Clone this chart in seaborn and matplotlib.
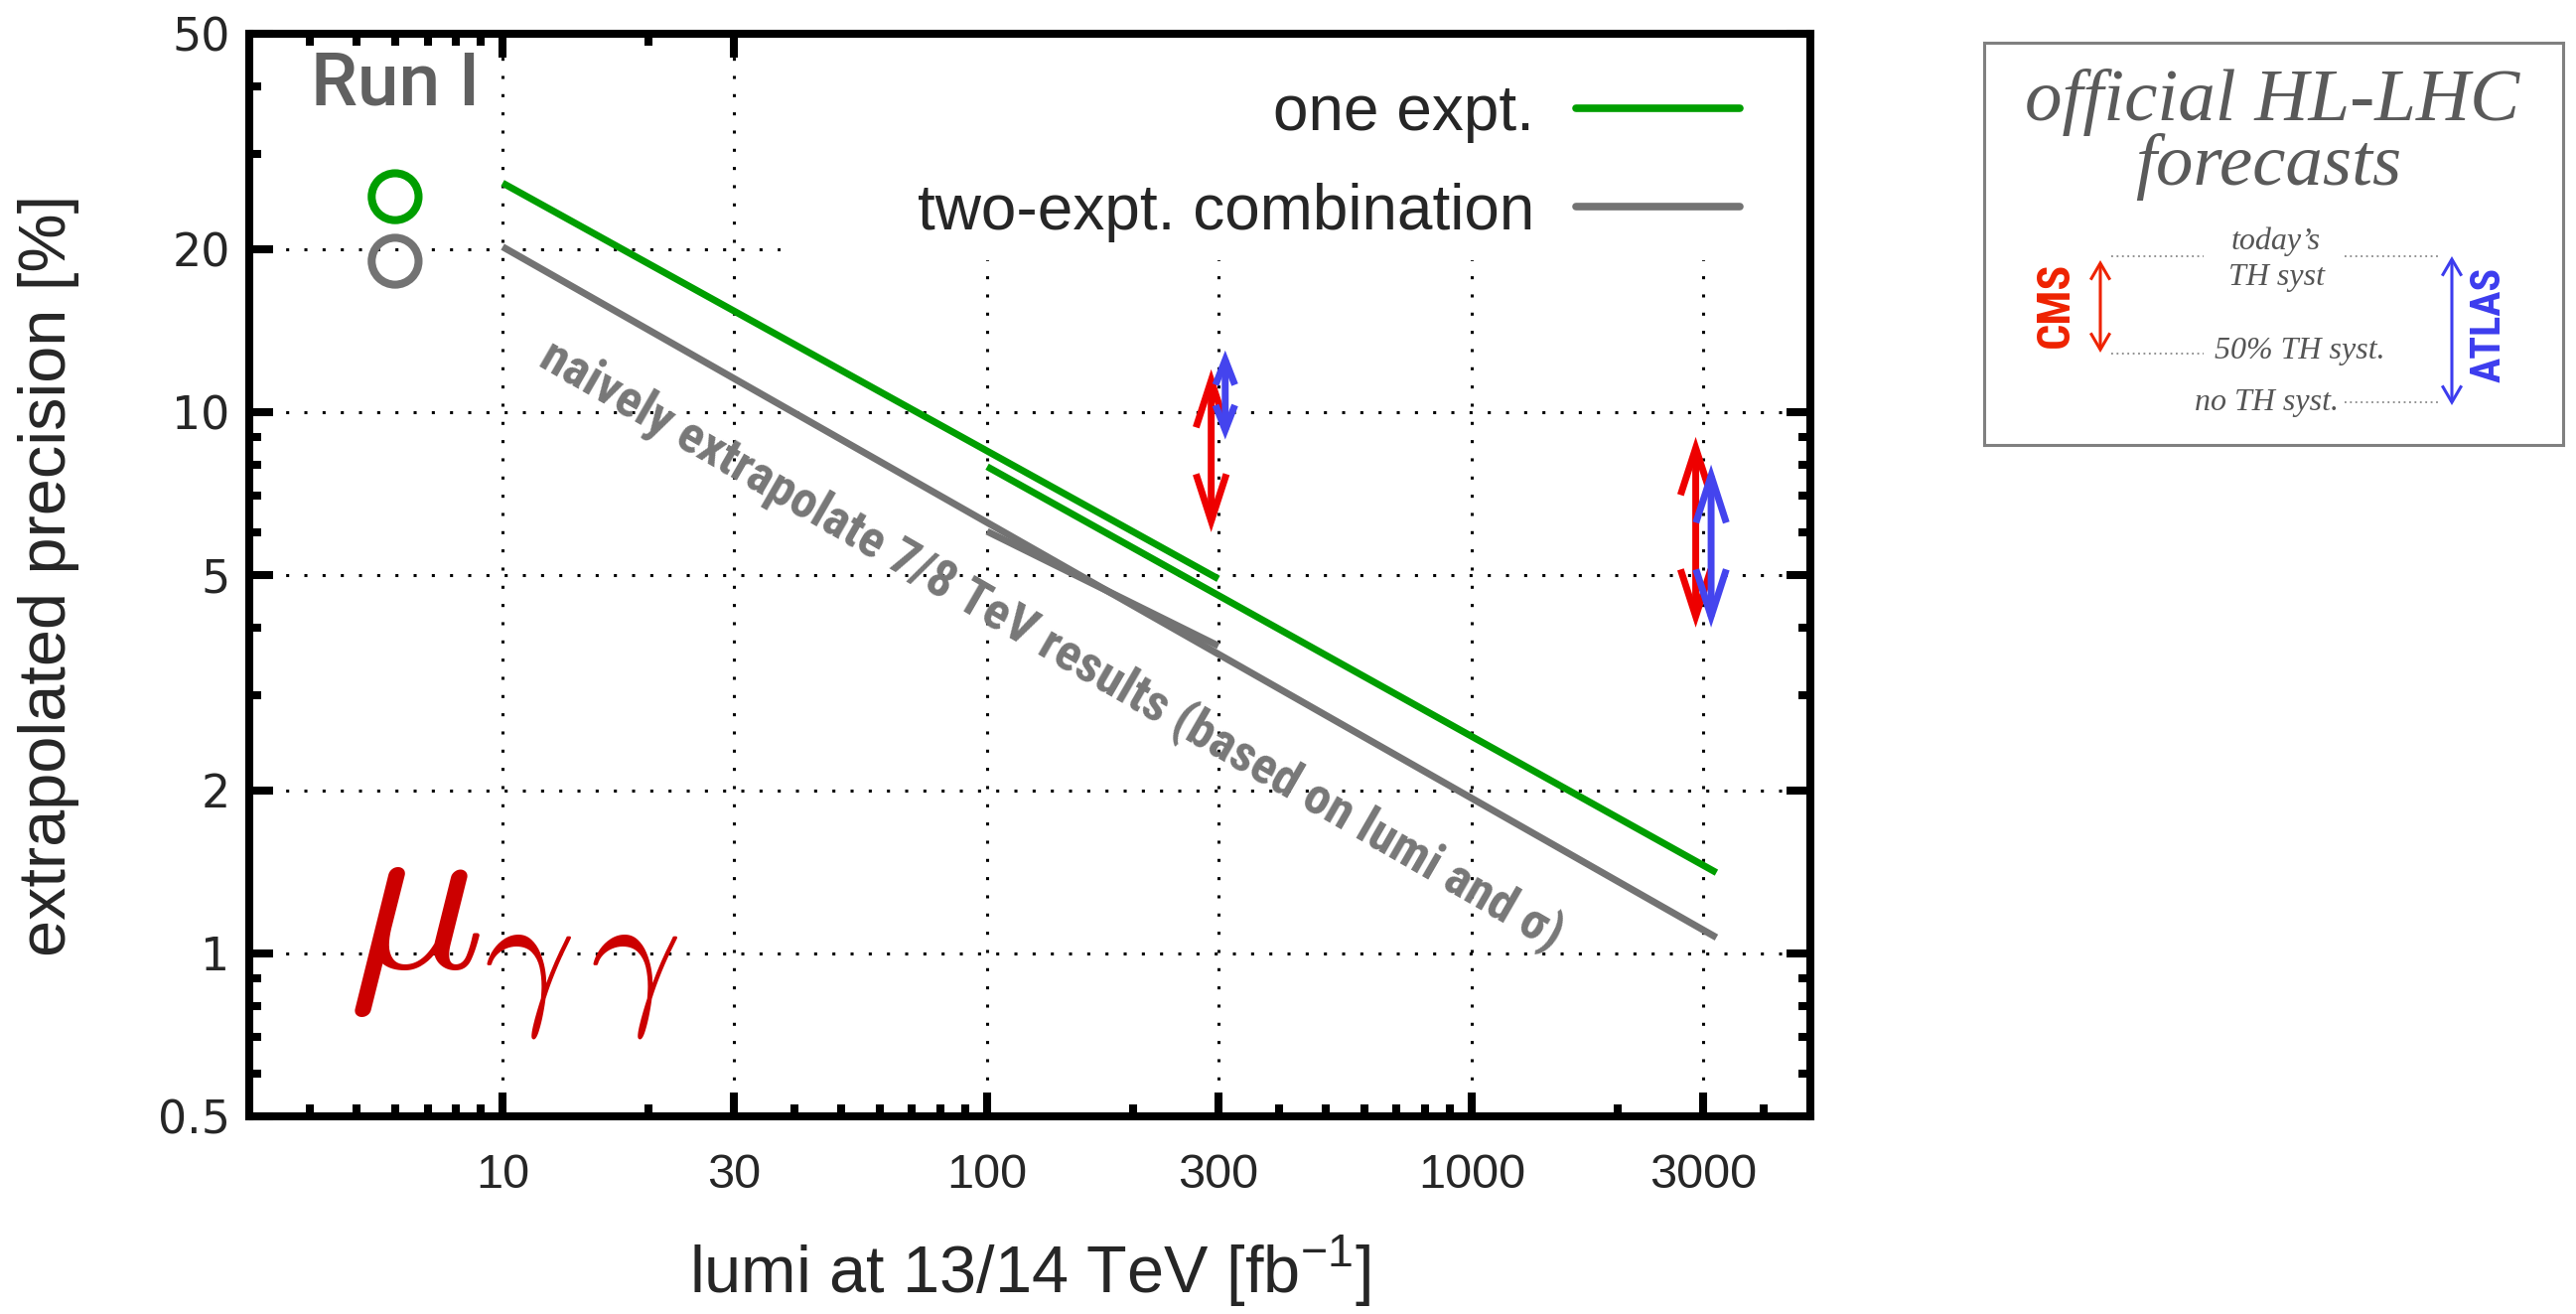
import os
import numpy as np
import pandas as pd
import matplotlib
matplotlib.use("Agg")
import matplotlib.pyplot as plt
import seaborn as sns
from matplotlib import font_manager as fm
from matplotlib.patches import Rectangle, FancyArrowPatch, ArrowStyle
from matplotlib.lines import Line2D
from matplotlib.ticker import NullFormatter

# ---------------- data ----------------
lumi_one_run2 = [10, 300]
prec_one_run2 = [26.5, 4.92]
lumi_one_hl = [100, 3200]
prec_one_hl = [7.93, 1.41]
lumi_two = [10, 3200]
prec_two = [20.2, 1.07]
lumi_two_short = [100, 300]
prec_two_short = [6.02, 3.70]

run1_lumi = [6, 6]
run1_prec = [25.0, 19.0]

cms_lumi = [290, 2900]
cms_low = [6.0, 4.0]
cms_high = [12.0, 9.0]
atlas_lumi = [310, 3120]
atlas_low = [8.9, 4.0]
atlas_high = [13.0, 8.0]

x_major = [10, 30, 100, 300, 1000, 3000]
x_labels = ["10", "30", "100", "300", "1000", "3000"]
x_minor = [4, 5, 6, 7, 8, 9, 20, 40, 50, 60, 70, 80, 90, 200, 400, 500, 600,
           700, 800, 900, 2000, 4000]
y_major = [0.5, 1, 2, 5, 10, 20, 50]
y_labels = ["0.5", "1", "2", "5", "10", "20", "50"]
y_minor = [0.6, 0.7, 0.8, 0.9, 3, 4, 6, 7, 8, 9, 30, 40]
legend_labels = ["one expt.", "two-expt. combination"]

GREEN = "#009e00"
GRAY = "#737373"
RED = "#ee0000"
BLUE = "#4444ee"

# ---------------- style ----------------
sns.set_style("ticks")
plt.rcParams["font.family"] = ["Liberation Sans", "DejaVu Sans"]
plt.rcParams["axes.edgecolor"] = "black"

files = {os.path.basename(f.fname): f.fname for f in fm.fontManager.ttflist}


def pick(cands, fallback):
    for c in cands:
        if c in files:
            return fm.FontProperties(fname=files[c])
    return fallback


cond_bold = pick(["LiberationSansNarrow-Bold.ttf", "RobotoCondensed-Bold.ttf",
                  "DejaVuSansCondensed-Bold.ttf", "Roboto-Bold.ttf"],
                 fm.FontProperties(family="DejaVu Sans", weight="bold"))
run_font = pick(["Roboto-Medium.ttf", "Roboto-Regular.ttf"],
                fm.FontProperties(family="DejaVu Sans"))
serif_it = fm.FontProperties(family=["Liberation Serif", "DejaVu Serif"], style="italic")

W, H = 2594, 1323
fig = plt.figure(figsize=(W / 100, H / 100), dpi=100)
ax = fig.add_axes([251 / W, 1 - 1124 / H, 1572 / W, 1090 / H])
ax.set_xscale("log")
ax.set_yscale("log")
ax.set_xlim(3, 5000)
ax.set_ylim(0.5, 50)

renderer = fig.canvas.get_renderer()


def fit_size(s, prop, target_px):
    p = prop.copy()
    p.set_size(100)
    w, h, d = renderer.get_text_width_height_descent(s, p, ismath=False)
    return 100 * target_px / w


# grid (dotted, gnuplot style)
for v in x_major:
    ax.axvline(v, color="k", lw=2.2, ls=(0, (1, 5)), zorder=0.4)
for v in y_major[1:-1]:
    ax.axhline(v, color="k", lw=2.2, ls=(0, (1, 5)), zorder=0.4)

# opaque legend area
ax.add_patch(Rectangle((0.3403, 0.7908), 0.6597, 0.2092, transform=ax.transAxes,
                       facecolor="white", edgecolor="none", zorder=0.6))

# lines
for xs, ys, c in [(lumi_one_run2, prec_one_run2, GREEN),
                  (lumi_one_hl, prec_one_hl, GREEN),
                  (lumi_two, prec_two, GRAY),
                  (lumi_two_short, prec_two_short, GRAY)]:
    sns.lineplot(x=xs, y=ys, ax=ax, color=c, lw=5, zorder=3,
                 solid_capstyle="butt", legend=False)

# Run I points
for xv, yv, c in zip(run1_lumi, run1_prec, [GREEN, GRAY]):
    sns.scatterplot(x=[xv], y=[yv], ax=ax, marker="o", s=34 ** 2,
                    facecolor="none", edgecolor=c, linewidth=5.8, zorder=3,
                    legend=False)
ax.text(6, 37.0, "Run I", ha="center", va="baseline", fontproperties=run_font,
        fontsize=54, color="#606060", zorder=4)


# double arrows
def darrow(a, x, y0, y1, color, lw, hl, hw, transform):
    st = ArrowStyle("<->", head_length=hl, head_width=hw)
    p = FancyArrowPatch((x, y0), (x, y1), arrowstyle=st, mutation_scale=1,
                        color=color, lw=lw, shrinkA=0, shrinkB=0,
                        transform=transform, zorder=4, joinstyle="miter",
                        capstyle="butt")
    a.add_patch(p)


for i, (xv, lo, hi) in enumerate(zip(cms_lumi, cms_low, cms_high)):
    darrow(ax, xv, lo, hi, RED, 5, 34, 11, ax.transData)
for i, (xv, lo, hi) in enumerate(zip(atlas_lumi, atlas_low, atlas_high)):
    hl, hw = (18, 7) if i == 0 else (34, 11)
    darrow(ax, xv, lo, hi, BLUE, 5, hl, hw, ax.transData)

# rotated annotation
note = "naively extrapolate 7/8 TeV results (based on lumi and σ)"
nsize = fit_size(note, cond_bold, 1180)
np_ = cond_bold.copy()
np_.set_size(nsize)
ax.text(136, 3.71, note, rotation=-30, rotation_mode="anchor", ha="center",
        va="center", fontproperties=np_, color="#777777", zorder=4)

# mu_gamma_gamma
ax.text(4.79, 0.939, r"$\mu_{\gamma\,\gamma}$", math_fontfamily="cm",
        fontsize=165, color="#cc0000", ha="left", va="baseline", zorder=4)

# legend
handles = [Line2D([], [], color=GREEN, lw=5.5), Line2D([], [], color=GRAY, lw=5.5)]
ax.legend(handles, legend_labels, loc="upper right",
          bbox_to_anchor=(1752 / W, 1 - 84 / H), bbox_transform=fig.transFigure,
          frameon=False, markerfirst=False, fontsize=46, handlelength=2.58,
          handletextpad=0.66, labelspacing=0.62, borderpad=0, borderaxespad=0)

# ticks / spines
ax.set_xticks(x_major, labels=x_labels)
ax.set_xticks(x_minor, minor=True)
ax.set_yticks(y_major, labels=y_labels, fontfamily="DejaVu Sans")
ax.set_yticks(y_minor, minor=True)
ax.xaxis.set_minor_formatter(NullFormatter())
ax.yaxis.set_minor_formatter(NullFormatter())
ax.tick_params(which="both", direction="in", top=True, right=True, color="k")
ax.tick_params(which="major", length=17, width=5.8)
ax.tick_params(which="minor", length=8.6, width=5.8)
ax.tick_params(axis="x", labelsize=35, pad=27)
ax.tick_params(axis="y", labelsize=33, pad=14)
for s in ax.spines.values():
    s.set_visible(True)
    s.set_linewidth(5.8)
    s.set_color("k")
    s.set_zorder(5)

ax.set_xlabel("lumi at 13/14 TeV [fb$^{\\mathregular{-1}}$]", fontsize=48)
ax.set_ylabel("extrapolated precision [%]", fontsize=48)
ax.xaxis.set_label_coords(0.5, -0.108)
ax.yaxis.set_label_coords(-0.109, 0.5)

# ---------------- side box ----------------
bx = fig.add_axes([1998 / W, 1 - 448 / H, 583 / W, 405 / H])
bx.set_xlim(1998, 2581)
bx.set_ylim(448, 43)
bx.set_xticks([])
bx.set_yticks([])
bx.set_facecolor("white")
for s in bx.spines.values():
    s.set_visible(True)
    s.set_color("#808080")
    s.set_linewidth(2.2)

tp = serif_it.copy()
tp.set_size(54)
bx.text(2288, 103, "official HL-LHC", ha="center", va="center", fontproperties=tp,
        color="#5a5a5a")
bx.text(2284, 168, "forecasts", ha="center", va="center", fontproperties=tp,
        color="#5a5a5a")
sp = serif_it.copy()
sp.set_size(23)
for (xx, yy, t) in [(2292, 243, "today’s"), (2292, 280, "TH syst"),
                    (2316, 353, "50% TH syst."), (2283, 405, "no TH syst.")]:
    bx.text(xx, yy, t, ha="center", va="center", fontproperties=sp, color="#555555")
for (x0, x1, yy) in [(2126, 2219, 258), (2361, 2455, 258), (2126, 2219, 356),
                     (2361, 2455, 405)]:
    bx.plot([x0, x1], [yy, yy], color="#888888", lw=1.3, ls=(0, (1, 2)))

darrow(bx, 2115, 262, 355, "#ee2200", 2.2, 12, 7, bx.transData)
darrow(bx, 2469, 258, 408, "#3c3cee", 2.2, 12, 7, bx.transData)

cp = cond_bold.copy()
cp.set_size(fit_size("CMS", cond_bold, 86))
bx.text(2070, 307, "CMS", rotation=90, ha="center", va="center",
        fontproperties=cp, color="#ee2200")
ap = cond_bold.copy()
ap.set_size(fit_size("ATLAS", cond_bold, 116))
bx.text(2506, 327, "ATLAS", rotation=90, ha="center", va="center",
        fontproperties=ap, color="#3c3cee")

fig.savefig("out.png", dpi=100)
